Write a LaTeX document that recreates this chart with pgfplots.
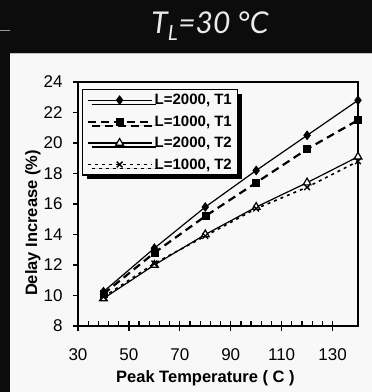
\documentclass[border=0pt]{standalone}
\usepackage{fontspec}
\setmainfont{Liberation Sans}
\newfontfamily\titlefont{Lato}
\usepackage{pgfplots}
\pgfplotsset{compat=1.18}
\usetikzlibrary{shadows}
\definecolor{bgblack}{HTML}{0C0C0C}
\definecolor{panel}{HTML}{F8F8F8}
\definecolor{titlewhite}{HTML}{EAEAEA}
\begin{document}
\begin{tikzpicture}
\useasboundingbox (0,0) rectangle (372bp,392bp);
\fill[bgblack] (0,0) rectangle (372bp,392bp);
\fill[panel] (10bp,0) rectangle (372bp,339bp);
\draw[gray!50, line width=0.8bp] (10bp,339bp) -- (372bp,339bp);
\draw[gray!80, line width=0.8bp] (0,362bp) -- (10bp,362bp);
\node[anchor=base, text=titlewhite, font=\titlefont\itshape\fontsize{30bp}{36bp}\selectfont] at (210bp,358bp) {T\textsubscript{L}=30 °C};
\begin{axis}[
  at={(78bp,66bp)}, anchor=south west,
  scale only axis, width=280bp, height=244bp,
  xmin=30, xmax=140, ymin=8, ymax=24,
  xtick={30,50,...,130}, minor x tick num=4,
  ytick=\empty,
  extra y ticks={8,10,...,24},
  extra y tick style={tick align=outside},
  extra x ticks={30,50,...,130},
  extra x tick labels={},
  extra x tick style={tick align=outside},
  tick align=inside, tick pos=left,
  major tick length=5bp, minor tick length=5bp,
  every tick/.style={black, line width=1.3bp},
  axis line style={line width=1.5bp},
  /pgf/number format/assume math mode=true,
  tick label style={font=\fontsize{17bp}{20bp}\selectfont},
  xticklabel style={anchor=base, yshift=-34bp},
  yticklabel style={anchor=east, xshift=-7bp},
  xlabel={Peak Temperature ( C )},
  ylabel={Delay Increase (\%)},
  every axis x label/.style={at={(axis description cs:0.455,-0.2295)}, anchor=base,
    font=\bfseries\fontsize{16.5bp}{19bp}\selectfont},
  every axis y label/.style={at={(axis description cs:-0.161,0.422)}, rotate=90, anchor=center,
    font=\bfseries\fontsize{16.5bp}{19bp}\selectfont},
  legend style={at={(0.014,0.971)}, anchor=north west, draw=black, line width=1.2bp,
    fill=panel, drop shadow={shadow xshift=4bp, shadow yshift=-4bp, fill=black, opacity=1},
    font=\bfseries\fontsize{15bp}{17bp}\selectfont, cells={anchor=west},
    inner xsep=4bp, inner ysep=2.5bp, row sep=5.5bp},
  legend image code/.code={\draw[mark repeat=2, mark phase=2, #1] plot coordinates {(0bp,0bp) (32bp,0bp) (64bp,0bp)};},
]
\addplot[black, line width=1.2bp, mark=diamond*, mark size=4bp, mark options={solid}] coordinates {
 (40,10.25) (60,13.1) (80,15.8) (100,18.2) (120,20.5) (140,22.8)};
\addlegendentry{L=2000, T1}
\addplot[black, line width=2.2bp, dash pattern=on 8bp off 5bp, mark=square*, mark size=3.5bp, mark options={solid, line width=0.5bp}] coordinates {
 (40,10.1) (60,12.8) (80,15.2) (100,17.4) (120,19.6) (140,21.5)};
\addlegendentry{L=1000, T1}
\addplot[black, line width=1.2bp, mark=triangle*, mark size=4.5bp, mark options={solid, fill=white}] coordinates {
 (40,9.8) (60,12.0) (80,14.0) (100,15.8) (120,17.4) (140,19.1)};
\addlegendentry{L=2000, T2}
\addplot[black, line width=1.6bp, dash pattern=on 3bp off 4bp, mark=x, mark size=4bp, mark options={solid, line width=1.3bp}] coordinates {
 (40,9.9) (60,12.1) (80,13.9) (100,15.7) (120,17.1) (140,18.8)};
\addlegendentry{L=1000, T2}
\end{axis}
\end{tikzpicture}
\end{document}
